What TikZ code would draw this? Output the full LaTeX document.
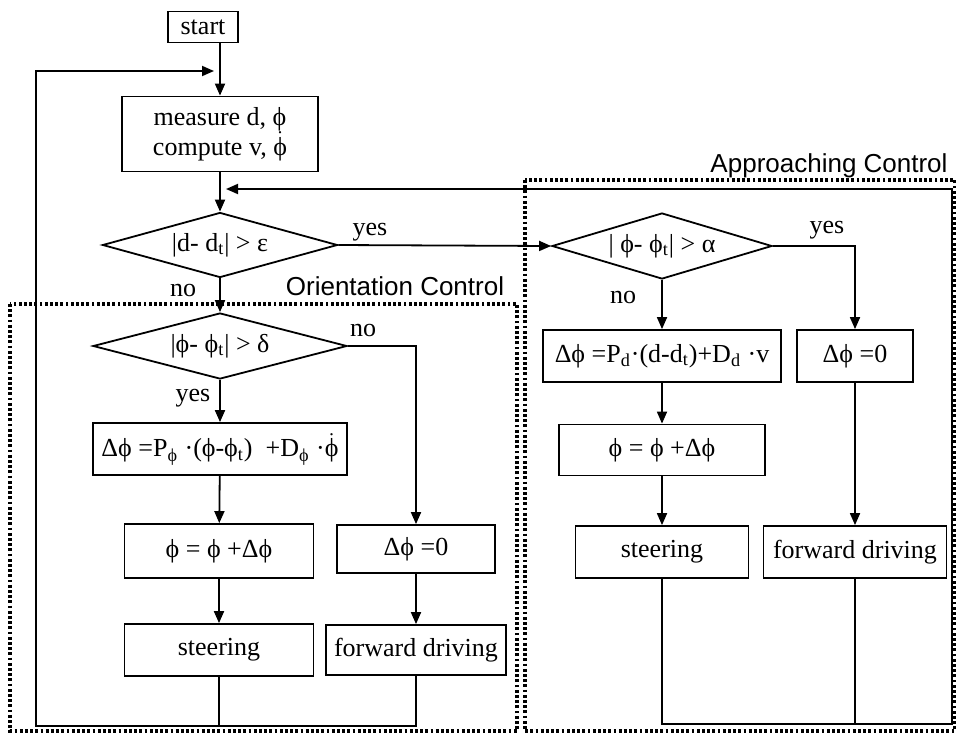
\documentclass[tikz,border=0pt]{standalone}
\usepackage{amsmath}
\usepackage{fontspec}
\setmainfont{Liberation Serif}
\newfontfamily\labfont{Liberation Sans}
\usetikzlibrary{arrows.meta,shapes.geometric,positioning,calc}
\newcommand{\lo}[1]{\textsubscript{#1}}
\newcommand{\phid}{\ensuremath{\dot{\text{ϕ}}}}
\tikzstyle{proc} = [rectangle, draw=black, line width=0.9pt, inner sep=1pt, text centered]
\tikzstyle{decis} = [diamond, draw=black, line width=0.9pt, inner sep=0pt, aspect=3.5]
\tikzstyle{arrow} = [line width=0.9pt,-{Triangle[length=6pt,width=5pt]}]
\tikzstyle{wire} = [line width=0.9pt]
\tikzstyle{region} = [line width=1.6pt, dash pattern=on 1.4pt off 1.2pt]
\begin{document}
\begin{tikzpicture}[x=0.5pt,y=-0.5pt,every node/.style={font=\fontsize{13}{15}\selectfont}]
      \useasboundingbox (0,0) rectangle (956,734);
      % dotted regions
      \draw[region] (10,304) rectangle (517,731);
      \draw[region] (525,180) rectangle (955,731);
      \node (ltxo) at (395,286) {\labfont Orientation Control};
      \node (ltxa) at (829,166) {\labfont Approaching Control};
      % main column
      \node (st) at (203,27) [proc, minimum width=35pt, minimum height=15.5pt] {start};
      \node (ms) at (220,134) [proc, minimum width=98pt, minimum height=37.5pt, align=center] {measure d, ϕ\\compute v, \phid};
      \node (d1) at (220,245) [decis, minimum width=117.5pt, minimum height=32.5pt] {|d- d\lo{t}| > ε};
      % orientation control
      \node (d3) at (220,346) [decis, minimum width=127pt, minimum height=33pt] {|ϕ- ϕ\lo{t}| > δ};
      \node (pa) at (220,449) [proc, minimum width=127pt, minimum height=26pt] {Δϕ =P\lo{ϕ} ·(ϕ-ϕ\lo{t})\ \ +D\lo{ϕ} ·\phid};
      \node (fa) at (219,551) [proc, minimum width=94.5pt, minimum height=27pt] {ϕ = ϕ +Δϕ};
      \node (za) at (416,549) [proc, minimum width=79pt, minimum height=24pt] {Δϕ =0};
      \node (sa) at (219,650) [proc, minimum width=94.5pt, minimum height=26pt] {steering};
      \node (wa) at (416,650) [proc, minimum width=90pt, minimum height=25pt] {forward driving};
      % approaching control
      \node (d2) at (662,246) [decis, minimum width=110pt, minimum height=33pt] {| ϕ- ϕ\lo{t}| > α};
      \node (pb) at (662,356) [proc, minimum width=119pt, minimum height=26pt] {Δϕ =P\lo{d}·(d-d\lo{t})+D\lo{d} ·v};
      \node (zb) at (855,356) [proc, minimum width=58pt, minimum height=26pt] {Δϕ =0};
      \node (fb) at (662,450) [proc, minimum width=103pt, minimum height=25.5pt] {ϕ = ϕ +Δϕ};
      \node (sb) at (662,552) [proc, minimum width=86.5pt, minimum height=26pt] {steering};
      \node (wb) at (855,552) [proc, minimum width=91.5pt, minimum height=26pt] {forward driving};
      % yes / no
      \node (y1) at (370,232) {yes};
      \node (n1) at (183,290) {no};
      \node (y2) at (827,230) {yes};
      \node (n2) at (623,297) {no};
      \node (n3) at (363,330) {no};
      \node (y3) at (193,398) {yes};
      % loop corners
      \coordinate (j1) at (220,71);
      \coordinate (j2) at (220,189);
      \coordinate (c1) at (36,726);
      \coordinate (c2) at (952,724);
      \draw[arrow] (st.south -| ms.north)--(ms.north);
      \draw[arrow] (ms)--(d1);
      \draw[arrow] (d1.east)--(d2.west);
      \draw[arrow] (d1)--(d3);
      \draw[arrow] (d3)--(pa);
      \draw[arrow] (pa)--(fa);
      \draw[arrow] (fa)--(sa);
      \draw[arrow] (d3.east) -| (za.north);
      \draw[arrow] (za)--(wa);
      \draw[arrow] (d2)--(pb);
      \draw[arrow] (d2.east) -| (zb.north);
      \draw[arrow] (pb)--(fb);
      \draw[arrow] (fb)--(sb);
      \draw[arrow] (zb)--(wb);
      % back to measuring
      \draw[wire] (sa.south)--(sa.south |- c1);
      \draw[arrow, shorten >=3pt] (wa.south) |- (c1) |- (j1);
      \draw[wire] (wb.south)--(wb.south |- c2);
      \draw[arrow, shorten >=3pt] (sb.south) |- (c2) |- (j2);
      \end{tikzpicture}
\end{document}
